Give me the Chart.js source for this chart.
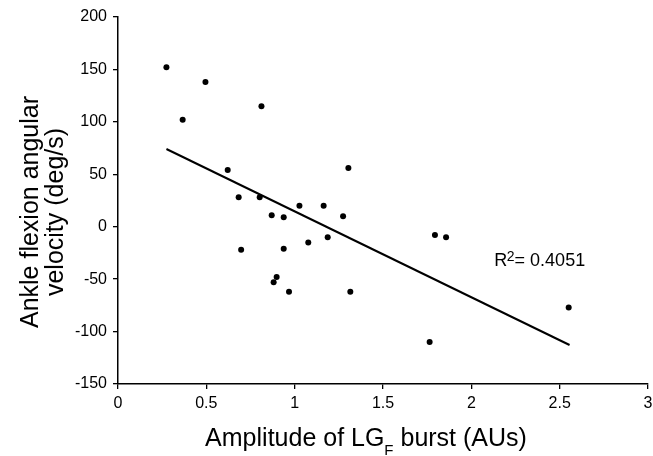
<!DOCTYPE html>
<html>
<head>
<meta charset="utf-8">
<script src="https://cdn.jsdelivr.net/npm/chart.js@4/dist/chart.umd.min.js"></script>
<style>
  html, body { margin: 0; padding: 0; background: #fff; }
  #wrap { width: 653px; height: 456px; }
</style>
</head>
<body>
<div id="wrap"><canvas id="scatter"></canvas></div>
<script>
// amplitude (AUs) vs ankle flexion angular velocity (deg/s)
const pointX = [0.274, 0.495, 0.366, 0.812, 0.621, 1.304, 0.683, 0.802, 0.870, 0.938,
                1.027, 1.164, 1.274, 0.697, 0.938, 1.077, 1.187, 0.898, 0.881, 0.968,
                1.315, 1.794, 1.857, 1.764, 2.551];
const pointY = [152, 138, 102, 115, 54, 56, 28, 28, 11, 9,
                20, 20, 10, -22, -21, -15, -10, -48, -53, -62,
                -62, -8, -10, -110, -77];

// regression line ends
const fitX = [0.274, 2.556];
const fitY = [74.1, -112.8];

const xTickValues = [0, 0.5, 1, 1.5, 2, 2.5, 3];
const yTickValues = [-150, -100, -50, 0, 50, 100, 150, 200];

const rSquared = '0.4051';

const FONT = '"Liberation Sans", Arial, Helvetica, sans-serif';

// titles + R² drawn by hand (subscript / superscript)
const labelsPlugin = {
    id: 'labels',
    afterDraw(chart) {
        const ctx = chart.ctx;
        const xs = chart.scales.x, ys = chart.scales.y;
        ctx.save();
        ctx.fillStyle = '#000';
        ctx.textBaseline = 'alphabetic';
        ctx.textAlign = 'left';

        // x title: Amplitude of LG_F burst (AUs)
        const big = '25px ' + FONT, small = '15px ' + FONT;
        const p1 = 'Amplitude of LG', p2 = 'F', p3 = ' burst (AUs)';
        ctx.font = big;
        const w1 = ctx.measureText(p1).width, w3 = ctx.measureText(p3).width;
        ctx.font = small;
        const w2 = ctx.measureText(p2).width;
        let x = 366 - (w1 + w2 + w3) / 2;
        const base = 445.5;
        ctx.font = big; ctx.fillText(p1, x, base); x += w1;
        ctx.font = small; ctx.fillText(p2, x, base + 9); x += w2;
        ctx.font = big; ctx.fillText(p3, x, base);

        // y title, two lines rotated
        ctx.save();
        ctx.translate(0, 212);
        ctx.rotate(-Math.PI / 2);
        ctx.textAlign = 'center';
        ctx.font = big;
        ctx.fillText('Ankle flexion angular', 0, 38);
        ctx.fillText('velocity (deg/s)', 0, 63);
        ctx.restore();

        // R² label
        const rx = xs.getPixelForValue(2.13), ry = ys.getPixelForValue(-37.5);
        ctx.font = '18px ' + FONT;
        ctx.fillText('R', rx, ry);
        let rw = ctx.measureText('R').width;
        ctx.font = '14px ' + FONT;
        ctx.fillText('2', rx + rw - 0.5, ry - 5);
        rw += ctx.measureText('2').width - 0.5;
        ctx.font = '18px ' + FONT;
        ctx.fillText('= ' + rSquared, rx + rw, ry);
        ctx.restore();
    }
};

const axisCommon = {
    type: 'linear',
    grid: { display: true, drawOnChartArea: false, drawTicks: true, tickLength: 5, color: '#000', lineWidth: 1.3 },
    border: { display: true, color: '#000', width: 1.5 },
    ticks: { color: '#000', font: { family: FONT, size: 16 }, callback: v => String(v) },
    title: { display: false }
};

new Chart(document.getElementById('scatter'), {
    type: 'scatter',
    data: {
        datasets: [
            {
                label: 'data',
                data: pointX.map((v, i) => ({ x: v, y: pointY[i] })),
                backgroundColor: '#000',
                borderWidth: 0,
                pointRadius: 3
            },
            {
                label: 'fit',
                type: 'line',
                data: fitX.map((v, i) => ({ x: v, y: fitY[i] })),
                borderColor: '#000',
                borderWidth: 2,
                pointRadius: 0,
                fill: false
            }
        ]
    },
    options: {
        responsive: true,
        maintainAspectRatio: false,
        animation: false,
        layout: { padding: { left: 0, right: 5, top: 17, bottom: 0 } },
        plugins: { legend: { display: false }, tooltip: { enabled: false } },
        scales: {
            x: {
                ...axisCommon,
                min: 0, max: 3,
                ticks: { ...axisCommon.ticks, padding: 5, maxRotation: 0, autoSkip: false },
                afterBuildTicks: axis => { axis.ticks = xTickValues.map(v => ({ value: v })); },
                afterFit: scale => { scale.height = 72; scale.paddingLeft = 0; scale.paddingRight = 0; }
            },
            y: {
                ...axisCommon,
                min: -150, max: 200,
                ticks: { ...axisCommon.ticks, padding: 6, autoSkip: false },
                afterBuildTicks: axis => { axis.ticks = yTickValues.map(v => ({ value: v })); },
                afterFit: scale => { scale.width = 118; scale.paddingTop = 0; scale.paddingBottom = 0; }
            }
        }
    },
    plugins: [labelsPlugin]
});
</script>
</body>
</html>
